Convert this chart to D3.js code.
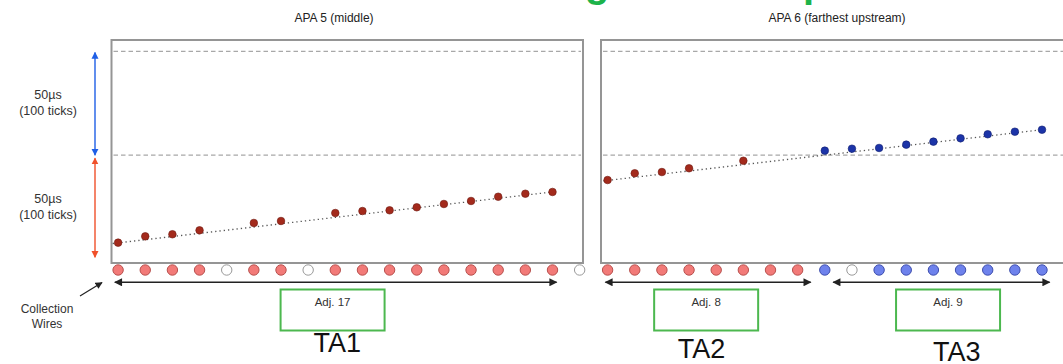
<!DOCTYPE html>
<html><head><meta charset="utf-8">
<script src="https://cdn.jsdelivr.net/npm/d3@7"></script>
<style>html,body{margin:0;padding:0;background:#fff;overflow:hidden}</style>
</head><body>
<svg id="c" width="1063" height="364"></svg>
<script>
// ---- data ----
const panelTitles = ["APA 5 (middle)", "APA 6 (farthest upstream)"];
// wire state per collection wire: r = red hit wire, b = blue hit wire, o = empty wire
const apa5Wires = ["r","r","r","r","o","r","r","o","r","r","r","r","r","r","r","r","r","o"];
const apa6Wires = ["r","r","r","r","r","r","r","r","b","o","b","b","b","b","b","b","b","b"];
// hits: [wire index, time in ticks]
const apa5Hits = [[0,15.6],[1,21.7],[2,23.7],[3,27.5],[5,34.6],[6,36.5],[8,44.2],[9,46.1],[10,46.8],[11,49.7],[12,52.9],[13,55.8],[14,59.9],[15,62.8],[16,64.5]];
const apa6HitsRed = [[0,76.0],[1,82.5],[2,83.7],[3,87.3],[5,94.6]];
const apa6HitsBlue = [[8,104.3],[9,106.2],[10,106.9],[11,110.1],[12,113.0],[13,116.2],[14,120.1],[15,122.6],[16,124.5]];
// dotted track lines: [[wire, tick],[wire, tick]]
const apa5Track = [[-0.2,14.8],[16,64.5]];
const apa6Track = [[-0.16,75.1],[16,124.5]];
const windowTicks = [100, 200];
const sideLabels = [["50µs","(100 ticks)"],["50µs","(100 ticks)"]];
// trigger activity groups: panel, span start, span end, box centre, label centre
const taNames = ["TA1","TA2","TA3"];
const taAdj = ["Adj. 17","Adj. 8","Adj. 9"];
const taPanel = [0,1,1];
const taSpan = [[-0.12,16.15],[-0.08,7.48],[8.31,16.28]];
const taBoxCenter = [7.9,3.63,12.54];
const taLabelCenter = [8.07,3.46,12.86];

// ---- layout ----
const svg = d3.select("#c");
const font = "'Liberation Sans', Arial, sans-serif";
const panelLeft = [111.5, 601];
const panelW = 471.5, panelTop = 40, panelBottom = 263;
const y = d3.scaleLinear().domain([-4, 211]).range([panelBottom, panelTop]);
const xs = panelLeft.map(l => d3.scaleLinear().domain([0,17]).range([l+6.6, l+6.6+17*27.15]));

const defs = svg.append("defs");
function marker(id, color, w, h){
  const m = defs.append("marker").attr("id",id).attr("viewBox","0 0 10 10")
    .attr("refX",9).attr("refY",5).attr("markerWidth",w).attr("markerHeight",h)
    .attr("markerUnits","userSpaceOnUse").attr("orient","auto-start-reverse");
  m.append("path").attr("d","M0,0L10,5L0,10Z").attr("fill",color);
}
marker("ab","#222",11,8);
marker("abBlue","#1f5fe6",7,8);
marker("abRed","#f0502a",7,8);
marker("abSmall","#222",8,7);

// cut-off green heading descenders at top
svg.append("text").attr("x",585).attr("y",-3.5).attr("font-family",font).attr("font-weight","bold")
  .attr("font-size",40).attr("fill","#1db34a").text("g");
svg.append("text").attr("x",803).attr("y",-3.5).attr("font-family",font).attr("font-weight","bold")
  .attr("font-size",40).attr("fill","#1db34a").text("p");

const colors = {
  r:{fill:"#f27a78", stroke:"#b8524f"},
  b:{fill:"#6e82ec", stroke:"#3f4fae"},
  o:{fill:"#ffffff", stroke:"#9a9a9a"}
};

[0,1].forEach(p => {
  const x = xs[p], L = panelLeft[p];
  const g = svg.append("g");
  g.append("text").attr("x", p===0?334:837).attr("y",22).attr("text-anchor","middle")
    .attr("font-family",font).attr("font-size",12).attr("fill","#222").text(panelTitles[p]);
  g.append("rect").attr("x",L).attr("y",panelTop).attr("width",panelW).attr("height",panelBottom-panelTop)
    .attr("fill","#fff").attr("stroke","#959595").attr("stroke-width",2);
  g.selectAll("line.win").data(windowTicks).join("line").attr("class","win")
    .attr("x1",L+2).attr("x2",L+panelW-2).attr("y1",d=>y(d)).attr("y2",d=>y(d))
    .attr("stroke","#a8a8a8").attr("stroke-width",1.4).attr("stroke-dasharray","4.5,3");
  const track = p===0?apa5Track:apa6Track;
  g.append("line").attr("x1",x(track[0][0])).attr("y1",y(track[0][1]))
    .attr("x2",x(track[1][0])).attr("y2",y(track[1][1]))
    .attr("stroke","#555").attr("stroke-width",1.3).attr("stroke-dasharray","1.3,3");
  const wires = p===0?apa5Wires:apa6Wires;
  g.selectAll("circle.w").data(wires).join("circle").attr("class","w")
    .attr("cx",(d,i)=>x(i)).attr("cy",270).attr("r",5.2)
    .attr("fill",d=>colors[d].fill).attr("stroke",d=>colors[d].stroke).attr("stroke-width",1);
  const hitSets = p===0?[[apa5Hits,"#a32a1c","#6e1a10"]]:[[apa6HitsRed,"#a32a1c","#6e1a10"],[apa6HitsBlue,"#1c34a8","#0f1d6e"]];
  hitSets.forEach(([hits,fill,stroke]) => {
    g.selectAll(null).data(hits).join("circle")
      .attr("cx",d=>x(d[0])).attr("cy",d=>y(d[1])).attr("r",3.8)
      .attr("fill",fill).attr("stroke",stroke).attr("stroke-width",0.6);
  });
});

// side labels and arrows
const sideY = [[200,100],[100,0]];
sideY.forEach((rng,i) => {
  const col = i===0?"#1f5fe6":"#f0502a";
  const mk = i===0?"abBlue":"abRed";
  svg.append("line").attr("x1",95).attr("x2",95)
    .attr("y1",y(rng[0])+(i===0?1:3)).attr("y2",y(rng[1])-(i===0?0:1.5))
    .attr("stroke",col).attr("stroke-width",1.4)
    .attr("marker-start",`url(#${mk})`).attr("marker-end",`url(#${mk})`);
  const mid = (y(rng[0])+y(rng[1]))/2;
  const t = svg.append("text").attr("text-anchor","middle").attr("font-family",font)
    .attr("font-size",12.5).attr("fill","#333");
  t.append("tspan").attr("x",48).attr("y",mid-4).text(sideLabels[i][0]);
  t.append("tspan").attr("x",48).attr("y",mid+12).text(sideLabels[i][1]);
});

// collection wires label
const cw = svg.append("text").attr("text-anchor","middle").attr("font-family",font)
  .attr("font-size",12).attr("fill","#333");
cw.append("tspan").attr("x",47).attr("y",313).text("Collection");
cw.append("tspan").attr("x",47).attr("y",328).text("Wires");
svg.append("line").attr("x1",80).attr("y1",296).attr("x2",102).attr("y2",282.5)
  .attr("stroke","#222").attr("stroke-width",1.2).attr("marker-end","url(#abSmall)");

// TA spans, boxes and labels
taNames.forEach((name,i) => {
  const x = xs[taPanel[i]];
  svg.append("line").attr("x1",x(taSpan[i][0])).attr("x2",x(taSpan[i][1])).attr("y1",282.3).attr("y2",282.3)
    .attr("stroke","#222").attr("stroke-width",1.5)
    .attr("marker-start","url(#ab)").attr("marker-end","url(#ab)");
  const cx = x(taBoxCenter[i]);
  svg.append("rect").attr("x",cx-52).attr("y",289.5).attr("width",104).attr("height",41)
    .attr("fill","#fff").attr("stroke","#4cb84f").attr("stroke-width",2);
  svg.append("text").attr("x",cx).attr("y",306).attr("text-anchor","middle")
    .attr("font-family",font).attr("font-size",11.5).attr("fill","#333").text(taAdj[i]);
  svg.append("text").attr("x",x(taLabelCenter[i])).attr("y",[352,358,361][i]).attr("text-anchor","middle")
    .attr("font-family",font).attr("font-size",27).attr("fill","#111").text(name);
});
</script>
</body></html>
